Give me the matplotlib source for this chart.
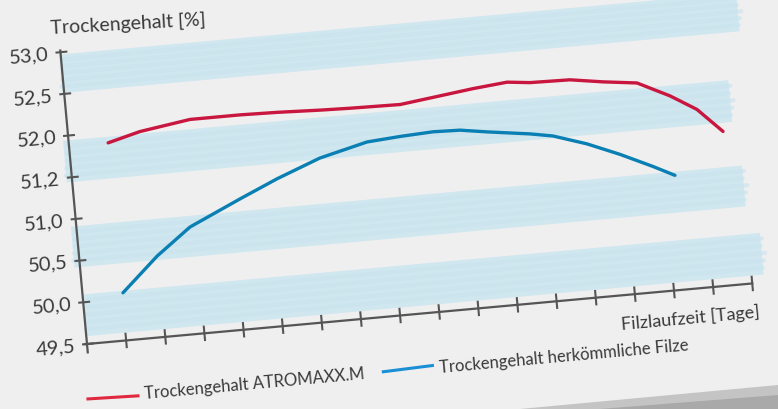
import numpy as np
import matplotlib.pyplot as plt
from matplotlib.transforms import Affine2D
from matplotlib.patches import Polygon

# values (x = Tage, y = Trockengehalt %)
days_atro = [1.00, 1.83, 3.13, 3.56, 4.41, 5.35, 6.44, 7.21, 8.49, 9.52,
             10.37, 11.25, 11.83, 12.85, 13.68, 14.54, 15.35, 16.00, 16.61]
tg_atro = [51.87, 51.97, 52.06, 52.06, 52.06, 52.05, 52.03, 52.02, 52.01, 52.07,
           52.12, 52.16, 52.13, 52.12, 52.06, 52.01, 51.82, 51.63, 51.34]

days_std = [1.03, 1.98, 2.88, 4.21, 5.20, 6.33, 7.56, 8.41, 9.26, 9.95,
            10.63, 11.71, 12.29, 13.13, 13.94, 14.75, 15.29]
tg_std = [50.07, 50.47, 50.78, 51.06, 51.26, 51.46, 51.60, 51.63, 51.65, 51.64,
          51.59, 51.52, 51.47, 51.34, 51.18, 51.00, 50.87]

y_ticks = [49.5, 50.0, 50.5, 51.0, 51.5, 52.0, 52.5, 53.0]
y_labels = ['49,5', '50,0', '50,5', '51,0', '51,2', '52,0', '52,5', '53,0']
x_ticks = list(range(1, 18))

# light blue marker stripes behind the chart
band_lo = [49.60, 50.43, 51.45, 52.52]
band_hi = [50.10, 50.92, 51.95, 52.98]
band_x0 = [0.0, -0.15, -0.15, -0.05]
band_x1 = [17.3, 17.0, 16.85, 17.25]

ANGLE = 5.2
INK = '#3a3a3a'
FONT = ['Lato', 'DejaVu Sans']

fig = plt.figure(figsize=(7.78, 4.10), dpi=100, facecolor='#efefef')
ax = fig.add_axes([87 / 778, 65 / 410, 668 / 778, 293 / 410])
ax.set_xlim(0, 17)
ax.set_ylim(49.5, 53.0)
ax.set_autoscale_on(False)
ax.axis('off')

ox, oy = ax.transAxes.transform((0, 0))
rot = Affine2D().rotate_deg_around(ox, oy, ANGLE)
td = ax.transData + rot
ta = ax.transAxes + rot

# stripes, built from a few overlapping strokes
for lo, hi, x0, x1 in zip(band_lo, band_hi, band_x0, band_x1):
    ax.fill_between([x0, x1], [lo, lo], [hi, hi], transform=td,
                    color='#d0e7f0', lw=0, clip_on=False, zorder=1)
    for k, f in enumerate(np.linspace(0.15, 0.85, 5)):
        yy = lo + f * (hi - lo)
        ax.plot([x0 + 0.03 * k, x1 + 0.05 * (k % 3)], [yy, yy], transform=td,
                color='#c8e2ed', lw=3, alpha=0.6, solid_capstyle='round',
                clip_on=False, zorder=1)

# axes
ax.plot([-0.05, 17], [49.5, 49.5], transform=td, color='#555555', lw=1.6,
        clip_on=False, zorder=3)
ax.plot([0, 0], [49.40, 53.02], transform=td, color='#555555', lw=1.6,
        clip_on=False, zorder=3)
for t in x_ticks:
    ax.plot([t, t], [49.42, 49.58], transform=td, color='#555555', lw=1.5,
            clip_on=False, zorder=3)
for v, lab in zip(y_ticks, y_labels):
    ax.plot([-0.1, 0.15], [v, v], transform=td, color='#555555', lw=1.5,
            clip_on=False, zorder=3)
    ax.text(-0.3, v, lab, transform=td, ha='right', va='center',
            rotation=ANGLE, rotation_mode='anchor', fontsize=14.5,
            color=INK, family=FONT)

# curves
ax.plot(days_atro, tg_atro, transform=td, color='#c8163f', lw=2.4,
        solid_capstyle='round', solid_joinstyle='round', clip_on=False, zorder=4)
ax.plot(days_std, tg_std, transform=td, color='#0a7fb3', lw=2.4,
        solid_capstyle='round', solid_joinstyle='round', clip_on=False, zorder=4)

# axis titles
ax.text(-0.012, 1.069, 'Trockengehalt [%]', transform=ta, ha='left',
        va='baseline', rotation=ANGLE - 2, rotation_mode='anchor',
        fontsize=14, color=INK, family=FONT)
ax.text(1.007, -0.116, 'Filzlaufzeit [Tage]', transform=ta, ha='right',
        va='baseline', rotation=ANGLE, rotation_mode='anchor',
        fontsize=13, color=INK, family=FONT)

# legend
ax.plot([-0.006, 0.069], [-0.187, -0.192], transform=ta, color='#e0283f',
        lw=2.2, clip_on=False)
ax.text(0.079, -0.201, 'Trockengehalt ATROMAXX.M', transform=ta, ha='left',
        va='baseline', rotation=ANGLE, rotation_mode='anchor',
        fontsize=12, color=INK, family=FONT)
ax.plot([0.438, 0.512], [-0.186, -0.180], transform=ta, color='#1a8fd6',
        lw=2.2, clip_on=False)
ax.text(0.522, -0.204, 'Trockengehalt herkömmliche Filze', transform=ta,
        ha='left', va='baseline', rotation=ANGLE, rotation_mode='anchor',
        fontsize=12, color=INK, family=FONT)

# paper shadow at the bottom right
fig.add_artist(Polygon([[520 / 778, 0], [1, 24 / 410], [1, 0]], closed=True,
                       transform=fig.transFigure, color='#c4c4c4', lw=0))
fig.add_artist(Polygon([[600 / 778, 0], [1, 14 / 410], [1, 0]], closed=True,
                       transform=fig.transFigure, color='#a9a9a9', lw=0))

fig.savefig('out.png', dpi=100, facecolor=fig.get_facecolor())
